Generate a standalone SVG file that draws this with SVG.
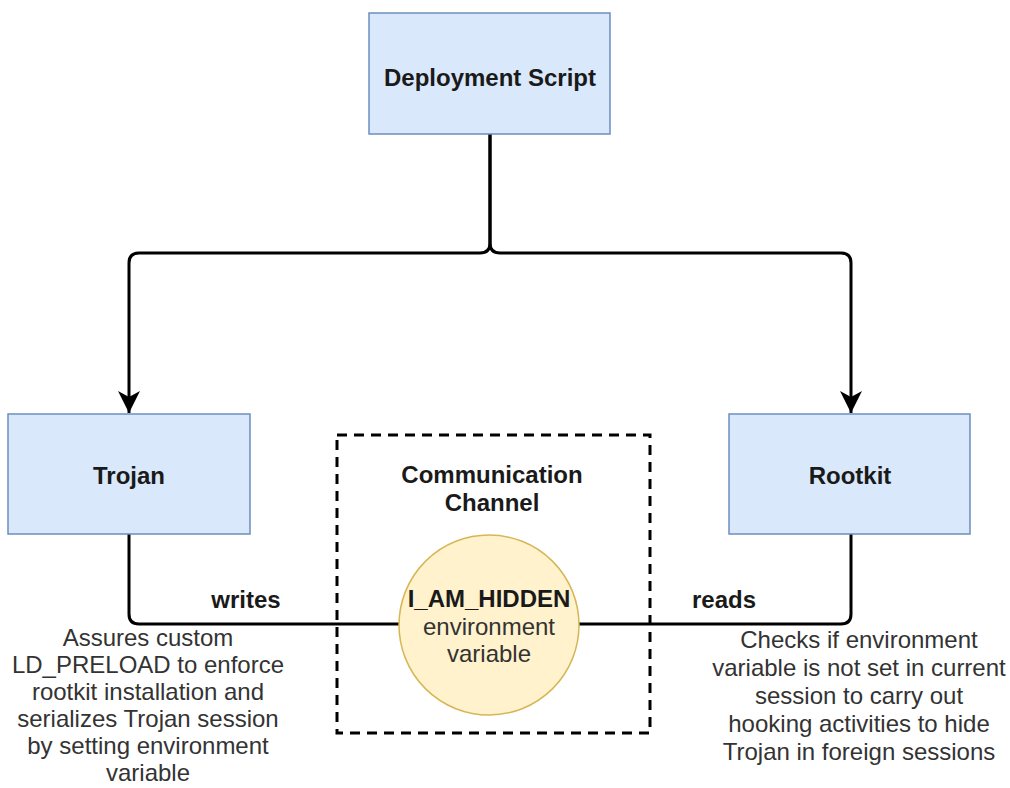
<svg xmlns="http://www.w3.org/2000/svg" width="1010" height="788" viewBox="0 0 1010 788">
<style>
.box{fill:#dae8fc;stroke:#6c8ebf;stroke-width:1.5}
.lbl{font-family:"Liberation Sans",Arial,sans-serif;font-size:24px;font-weight:bold;fill:#1a1a1a;text-anchor:middle}
.txt{font-family:"Liberation Sans",Arial,sans-serif;font-size:24px;fill:#333;text-anchor:middle}
.edge{fill:none;stroke:#000;stroke-width:3}
</style>
<defs>
<marker id="arr" viewBox="0 0 24 24" refX="22" refY="12" markerWidth="24" markerHeight="24" markerUnits="userSpaceOnUse" orient="auto">
<path d="M0,1 L22,12 L0,23 L6,12 Z" fill="#000"/>
</marker>
</defs>
<rect width="1010" height="788" fill="#fff"/>
<g id="comm-channel">
<rect x="337" y="435" width="313" height="298" fill="none" stroke="#000" stroke-width="3" stroke-dasharray="10 7"/>
<text class="lbl" x="492" y="483">Communication</text>
<text class="lbl" x="492" y="511">Channel</text>
</g>
<g id="edges">
<path class="edge" d="M490,134 V243 Q490,253 480,253 H139 Q129,253 129,263 V413" marker-end="url(#arr)"/>
<path class="edge" d="M490,134 V243 Q490,253 500,253 H841 Q851,253 851,263 V413" marker-end="url(#arr)"/>
<path class="edge" d="M129,534 V614 Q129,624 139,624 H400"/>
<path class="edge" d="M851,534 V614 Q851,624 841,624 H579"/>
<text class="lbl" x="246" y="608">writes</text>
<text class="lbl" x="724" y="608">reads</text>
</g>
<g id="deployment">
<rect class="box" x="369" y="13" width="241" height="121"/>
<text class="lbl" x="490" y="86">Deployment Script</text>
</g>
<g id="trojan">
<rect class="box" x="8" y="414" width="242" height="120"/>
<text class="lbl" x="129" y="484">Trojan</text>
</g>
<g id="rootkit">
<rect class="box" x="729" y="414" width="241" height="120"/>
<text class="lbl" x="850" y="484">Rootkit</text>
</g>
<g id="env-var">
<circle cx="489" cy="625" r="90" fill="#fff2cc" stroke="#d6b656" stroke-width="1.5"/>
<text class="lbl" x="489" y="607">I_AM_HIDDEN</text>
<text class="txt" x="489" y="635" fill="#1a1a1a">environment</text>
<text class="txt" x="489" y="662" fill="#1a1a1a">variable</text>
</g>
<g id="trojan-note">
<text class="txt" x="148" y="646">Assures custom</text>
<text class="txt" x="148" y="673">LD_PRELOAD to enforce</text>
<text class="txt" x="148" y="700">rootkit installation and</text>
<text class="txt" x="148" y="727">serializes Trojan session</text>
<text class="txt" x="148" y="754">by setting environment</text>
<text class="txt" x="148" y="781">variable</text>
</g>
<g id="rootkit-note">
<text class="txt" x="859" y="648">Checks if environment</text>
<text class="txt" x="859" y="676">variable is not set in current</text>
<text class="txt" x="859" y="704">session to carry out</text>
<text class="txt" x="859" y="732">hooking activities to hide</text>
<text class="txt" x="859" y="760">Trojan in foreign sessions</text>
</g>
</svg>
